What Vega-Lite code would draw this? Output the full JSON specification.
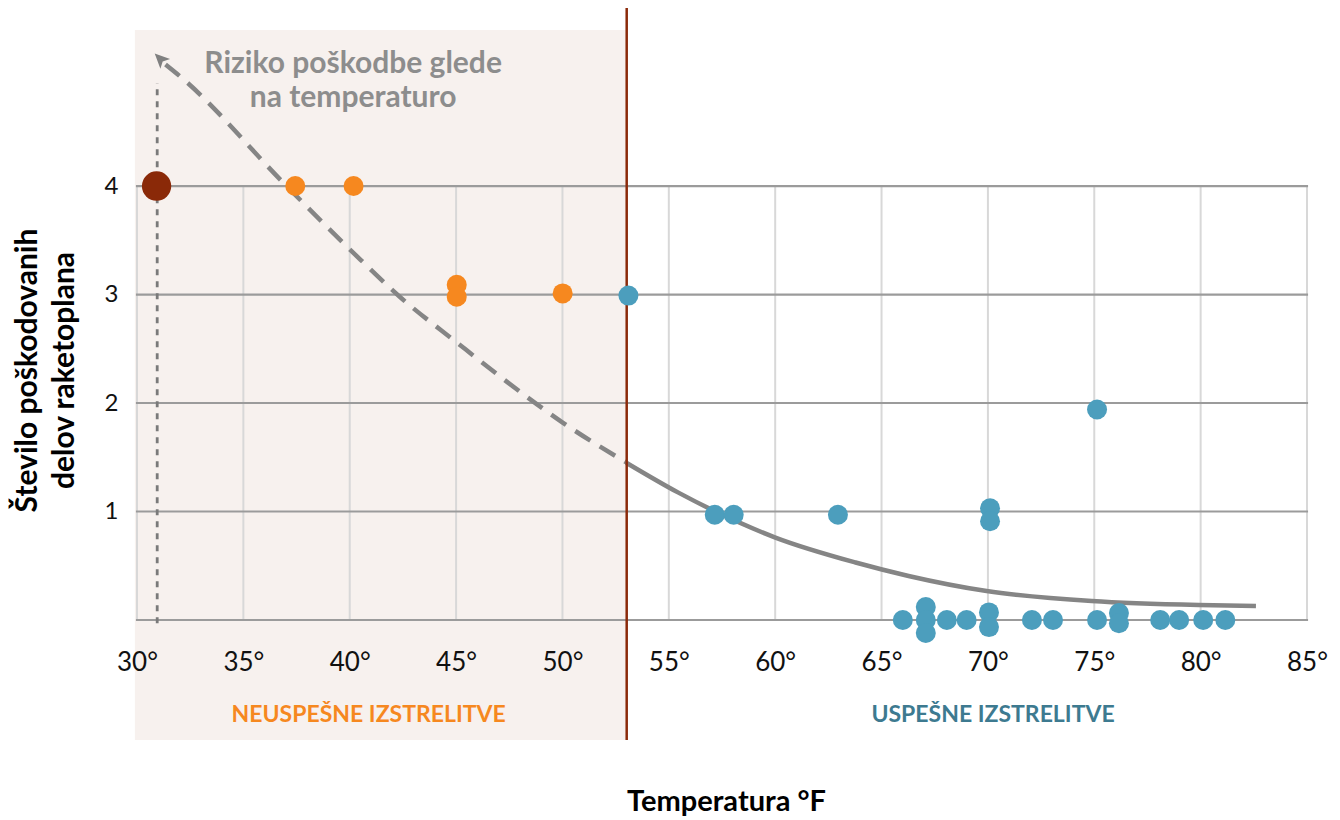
{
  "$schema": "https://vega.github.io/schema/vega-lite/v6.json",
  "width": 1170,
  "height": 732,
  "autosize": "none",
  "padding": {"left": 137, "top": 8, "right": 33, "bottom": 80},
  "background": "white",
  "config": {"view": {"stroke": null}, "font": "Lato"},
  "encoding": {
    "x": {
      "field": "x", "type": "quantitative",
      "scale": {"domain": [30, 85], "nice": false, "zero": false},
      "axis": {
        "title": "Temperatura °F",
        "values": [30, 35, 40, 45, 50, 55, 60, 65, 70, 75, 80, 85],
        "labelExpr": "datum.value + '°'",
        "domain": false, "ticks": false, "tickSize": 0, "grid": false,
        "offset": -70, "labelPadding": 0, "labelBaseline": "alphabetic",
        "labelFont": "Lato", "labelFontSize": 26, "labelColor": "#111111",
        "labelDx": 5, "labelFlush": false, "labelOverlap": false,
        "titleFont": "Lato", "titleFontSize": 29, "titleFontWeight": "bold",
        "titleColor": "#000000", "titleX": 589, "titleY": 140,
        "titleBaseline": "alphabetic", "titleAlign": "center", "zindex": 1
      }
    },
    "y": {
      "field": "y", "type": "quantitative",
      "scale": {"domain": [-1.106, 5.641], "nice": false, "zero": false},
      "axis": {
        "title": ["Število poškodovanih", "delov raketoplana"],
        "values": [1, 2, 3, 4],
        "domain": false, "ticks": false, "tickSize": 0, "grid": false,
        "labelPadding": 19, "labelFont": "Lato", "labelFontSize": 24,
        "labelColor": "#111111", "labelBaseline": "middle",
        "titleFont": "Lato", "titleFontSize": 30, "titleFontWeight": "bold",
        "titleColor": "#000000", "titleLineHeight": 37,
        "titleX": -110, "titleY": 362, "titleAngle": -90,
        "titleAlign": "center", "titleBaseline": "middle", "zindex": 1
      }
    }
  },
  "layer": [
    {
      "data": {"values": [{"x": 29.9, "x2": 53, "y": -1.106, "y2": 5.438}]},
      "mark": {"type": "rect", "color": "#F7F1EE"},
      "encoding": {"x2": {"field": "x2"}, "y2": {"field": "y2"}}
    },
    {
      "data": {"values": [
        {"x": 30, "y": 0, "y2": 4}, {"x": 35, "y": 0, "y2": 4}, {"x": 40, "y": 0, "y2": 4},
        {"x": 45, "y": 0, "y2": 4}, {"x": 50, "y": 0, "y2": 4}, {"x": 55, "y": 0, "y2": 4},
        {"x": 60, "y": 0, "y2": 4}, {"x": 65, "y": 0, "y2": 4}, {"x": 70, "y": 0, "y2": 4},
        {"x": 75, "y": 0, "y2": 4}, {"x": 80, "y": 0, "y2": 4}, {"x": 85, "y": 0, "y2": 4}
      ]},
      "mark": {"type": "rule", "color": "#D8D8D8", "strokeWidth": 2},
      "encoding": {"y2": {"field": "y2"}}
    },
    {
      "data": {"values": [
        {"x": 29.95, "x2": 85.05, "y": 0}, {"x": 29.95, "x2": 85.05, "y": 1},
        {"x": 29.95, "x2": 85.05, "y": 2}, {"x": 29.95, "x2": 85.05, "y": 3},
        {"x": 29.95, "x2": 85.05, "y": 4}
      ]},
      "mark": {"type": "rule", "color": "#9B9B9B", "strokeWidth": 2.2},
      "encoding": {"x2": {"field": "x2"}}
    },
    {
      "data": {"values": [{"x": 30.95, "y": -0.03, "y2": 4.95}]},
      "mark": {"type": "rule", "color": "#7A7A7A", "strokeWidth": 2.8, "strokeDash": [6, 6]},
      "encoding": {"y2": {"field": "y2"}}
    },
    {
      "data": {"values": [
        {"x": 31.34, "y": 5.12}, {"x": 32.09, "y": 5.0}, {"x": 36.98, "y": 4.01},
        {"x": 40.51, "y": 3.32}, {"x": 42.35, "y": 2.98}, {"x": 45.02, "y": 2.56},
        {"x": 48.79, "y": 1.99}, {"x": 50.01, "y": 1.82}, {"x": 53.02, "y": 1.45}
      ]},
      "mark": {"type": "line", "color": "#858585", "strokeWidth": 4.5, "strokeDash": [18, 11], "interpolate": "monotone"}
    },
    {
      "data": {"values": [
        {"x": 53.0, "y": 1.45}, {"x": 55.45, "y": 1.174}, {"x": 57.1, "y": 1.009},
        {"x": 60.01, "y": 0.76}, {"x": 63.78, "y": 0.53}, {"x": 66.27, "y": 0.406},
        {"x": 69.94, "y": 0.267}, {"x": 74.88, "y": 0.175}, {"x": 79.91, "y": 0.138},
        {"x": 82.6, "y": 0.13}
      ]},
      "mark": {"type": "line", "color": "#858585", "strokeWidth": 4.5, "interpolate": "monotone"}
    },
    {
      "data": {"values": [{"x": 53.02, "y": -1.106, "y2": 5.641}]},
      "mark": {"type": "rule", "color": "#8B2A0A", "strokeWidth": 2.5},
      "encoding": {"y2": {"field": "y2"}}
    },
    {
      "data": {"values": [
        {"x": 37.44, "y": 4.0, "grp": "neuspešne"},
        {"x": 40.18, "y": 4.0, "grp": "neuspešne"},
        {"x": 45.03, "y": 3.09, "grp": "neuspešne"},
        {"x": 45.03, "y": 2.98, "grp": "neuspešne"},
        {"x": 50.01, "y": 3.01, "grp": "neuspešne"},
        {"x": 53.1, "y": 2.99, "grp": "uspešne"},
        {"x": 57.16, "y": 0.97, "grp": "uspešne"},
        {"x": 58.05, "y": 0.97, "grp": "uspešne"},
        {"x": 62.95, "y": 0.97, "grp": "uspešne"},
        {"x": 70.1, "y": 1.03, "grp": "uspešne"},
        {"x": 70.1, "y": 0.91, "grp": "uspešne"},
        {"x": 75.13, "y": 1.94, "grp": "uspešne"},
        {"x": 66.0, "y": 0.0, "grp": "uspešne"},
        {"x": 67.08, "y": 0.12, "grp": "uspešne"},
        {"x": 67.08, "y": 0.0, "grp": "uspešne"},
        {"x": 67.08, "y": -0.12, "grp": "uspešne"},
        {"x": 68.07, "y": 0.0, "grp": "uspešne"},
        {"x": 69.0, "y": 0.0, "grp": "uspešne"},
        {"x": 70.05, "y": 0.07, "grp": "uspešne"},
        {"x": 70.05, "y": -0.065, "grp": "uspešne"},
        {"x": 72.07, "y": 0.0, "grp": "uspešne"},
        {"x": 73.06, "y": 0.0, "grp": "uspešne"},
        {"x": 75.13, "y": 0.0, "grp": "uspešne"},
        {"x": 76.16, "y": 0.065, "grp": "uspešne"},
        {"x": 76.16, "y": -0.03, "grp": "uspešne"},
        {"x": 78.1, "y": 0.0, "grp": "uspešne"},
        {"x": 78.99, "y": 0.0, "grp": "uspešne"},
        {"x": 80.12, "y": 0.0, "grp": "uspešne"},
        {"x": 81.16, "y": 0.0, "grp": "uspešne"}
      ]},
      "mark": {"type": "circle", "size": 400, "opacity": 1},
      "encoding": {
        "color": {"field": "grp", "type": "nominal",
          "scale": {"domain": ["neuspešne", "uspešne"], "range": ["#F6881F", "#4C9EBD"]},
          "legend": null}
      }
    },
    {
      "data": {"values": [{"x": 30.92, "y": 4.0}]},
      "mark": {"type": "circle", "size": 860, "opacity": 1, "color": "#8A2908"}
    },
    {
      "data": {"values": [{"x": 31.1, "y": 5.17}]},
      "mark": {"type": "point", "shape": "M0,-1L0.85,0.85L0,0.4L-0.85,0.85Z", "angle": -45,
        "size": 260, "filled": true, "opacity": 1, "color": "#808080"}
    },
    {
      "data": {"values": [{"x": 40.16, "y": 5.04, "text": "Riziko poškodbe glede\nna temperaturo"}]},
      "mark": {"type": "text", "font": "Lato", "fontSize": 30, "fontWeight": "bold",
        "color": "#8D8D8D", "align": "center", "baseline": "alphabetic",
        "lineBreak": "\n", "lineHeight": 34},
      "encoding": {"text": {"field": "text"}}
    },
    {
      "data": {"values": [{"x": 40.89, "y": -0.94, "text": "NEUSPEŠNE IZSTRELITVE"}]},
      "mark": {"type": "text", "font": "Lato", "fontSize": 23, "fontWeight": "bold",
        "color": "#F6881F", "align": "center", "baseline": "alphabetic"},
      "encoding": {"text": {"field": "text"}}
    },
    {
      "data": {"values": [{"x": 70.24, "y": -0.94, "text": "USPEŠNE IZSTRELITVE"}]},
      "mark": {"type": "text", "font": "Lato", "fontSize": 23, "fontWeight": "bold",
        "color": "#3D7A90", "align": "center", "baseline": "alphabetic"},
      "encoding": {"text": {"field": "text"}}
    }
  ]
}
